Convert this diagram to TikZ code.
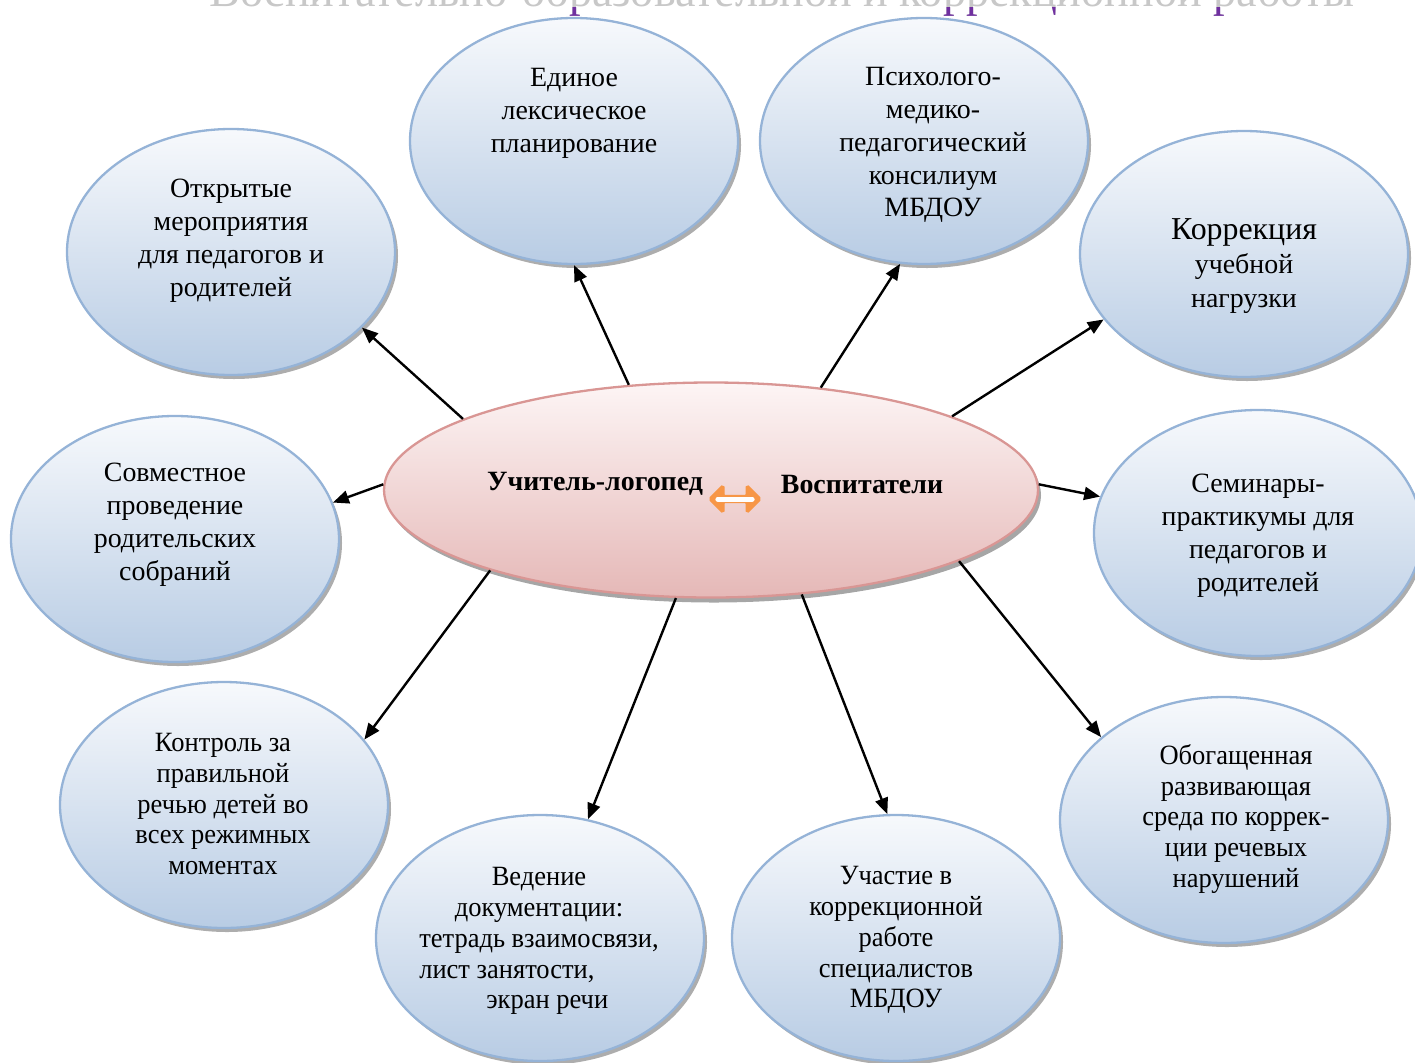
\documentclass[tikz,border=0pt]{standalone}
\usepackage{fontspec}
\setmainfont{Liberation Serif}
\newfontfamily\condensed{Liberation Serif}[FakeStretch=0.95]
\usetikzlibrary{arrows.meta,shapes.geometric,shapes.arrows,shadows}
\definecolor{bluebd}{RGB}{149,179,215}
\definecolor{bluebot}{RGB}{184,204,228}
\definecolor{bluetop}{RGB}{247,249,252}
\definecolor{pinkbd}{RGB}{217,150,148}
\definecolor{pinktop}{RGB}{253,245,245}
\definecolor{pinkbot}{RGB}{229,184,183}
\definecolor{arrorange}{RGB}{247,150,70}
\definecolor{titlegray}{RGB}{200,200,200}
\definecolor{titlepurple}{RGB}{112,48,160}
\newcommand{\titletext}{Воспитательно-образовательной и коррекционной работы}
\begin{document}
\begin{tikzpicture}[x=1bp,y=-1bp,
  bub/.style={ellipse, draw=bluebd, line width=2.3bp, top color=bluetop, bottom color=bluebot,
    minimum width=328bp, minimum height=246bp, inner sep=0pt,
    drop shadow={shadow xshift=3bp, shadow yshift=-4bp, fill=black, opacity=0.32}},
  hub/.style={ellipse, draw=pinkbd, line width=2.3bp, top color=pinktop, bottom color=pinkbot,
    minimum width=654bp, minimum height=215bp, inner sep=0pt,
    drop shadow={shadow xshift=3bp, shadow yshift=-5bp, fill=black, opacity=0.35}},
  txt/.style={align=center, inner sep=0pt, font=\fontsize{28}{33}\selectfont},
  txtb/.style={align=center, inner sep=0pt, font=\condensed\fontsize{28}{31}\selectfont},
  hubtxt/.style={inner sep=0pt, font=\fontsize{28}{32}\selectfont\bfseries},
  link/.style={line width=2.4bp, -{Triangle[length=16bp,width=13bp]}}
]
\useasboundingbox (0,0) rectangle (1415,1062);
% title (cut off at top, as in the reference)
\begin{scope}
\clip (0,0) rectangle (1415,1062);
\node[anchor=base, inner sep=0pt, text=titlegray] (title) at (782,6)
  {\resizebox{1145bp}{!}{\fontsize{40}{48}\selectfont\titletext}};
\end{scope}
\begin{scope}
\clip (0,7) rectangle (1415,20);
\node[anchor=base, inner sep=0pt, text=titlepurple] (titleb) at (782,6)
  {\resizebox{1145bp}{!}{\fontsize{40}{48}\selectfont\titletext}};
\end{scope}

% outer ellipses
\node[bub] (o1) at (231,252) {};
\node[bub] (o2) at (574,141) {};
\node[bub] (o3) at (924,141) {};
\node[bub] (o4) at (1244,254) {};
\node[bub] (o5) at (175,539) {};
\node[bub] (o6) at (1258,533) {};
\node[bub] (o7) at (224,805) {};
\node[bub] (o8) at (540,938) {};
\node[bub] (o9) at (896,938) {};
\node[bub] (o10) at (1224,820) {};

% center
\node[hub] (c) at (711,490) {};

% texts
\node[txt] (t1) at (231,241) {Открытые\\мероприятия\\для педагогов и\\родителей};
\node[txt] (t2) at (574,113) {Единое\\лексическое\\планирование};
\node[txt] (t3) at (933,145) {Психолого-\\медико-\\педагогический\\консилиум\\МБДОУ};
\node[txt, font=\fontsize{28}{34}\selectfont] (t4) at (1244,266) {{\fontsize{32}{36}\selectfont Коррекция}\\учебной\\нагрузки};
\node[txt] (t5) at (175,525) {Совместное\\проведение\\родительских\\собраний};
\node[txt] (t6) at (1258,536) {Семинары-\\практикумы для\\педагогов и\\родителей};
\node[txtb] (t7) at (223,804) {Контроль за\\правильной\\речью детей во\\всех режимных\\моментах};
\node[txtb] (t8) at (539,941) {Ведение\\документации:\\тетрадь взаимосвязи,\\\rlap{лист занятости,}\phantom{тетрадь взаимосвязи,}\\\rlap{\hspace*{67bp}экран речи}\phantom{тетрадь взаимосвязи,}};
\node[txtb] (t9) at (896,940) {Участие в\\коррекционной\\работе\\специалистов\\МБДОУ};
\node[txtb] (t10) at (1236,819) {Обогащенная\\развивающая\\среда по коррек-\\ции речевых\\нарушений};

\node[hubtxt] (h1) at (595,484) {Учитель-логопед};
\node[hubtxt] (h2) at (862,484) {Воспитатели};
\node[double arrow, fill=arrorange, draw=arrorange, line width=3bp, rounded corners=1.5bp,
  minimum width=26bp, minimum height=50bp, double arrow head extend=6bp, inner sep=0pt] (da) at (735,499) {};
\draw[white, line width=5bp, line cap=round, shorten <=10bp, shorten >=10bp] (da.west) -- (da.east);

% connectors
\draw[link] (c.164) -- (o1.330);
\draw[link] (c.128) -- (o2.270);
\draw[link] (c.43) -- (o3.259);
\draw[link] (c.17) -- (o4.205);
\draw[link] (c.179) -- (o5.13);
\draw[link] (c.1) -- (o6.167);
\draw[link] (c.200) -- (o7.25);
\draw[link] (c.252) -- (o8.68);
\draw[link] (c.311) -- (o9.94);
\draw[link] (c.344) -- (o10.146);
\end{tikzpicture}
\end{document}
